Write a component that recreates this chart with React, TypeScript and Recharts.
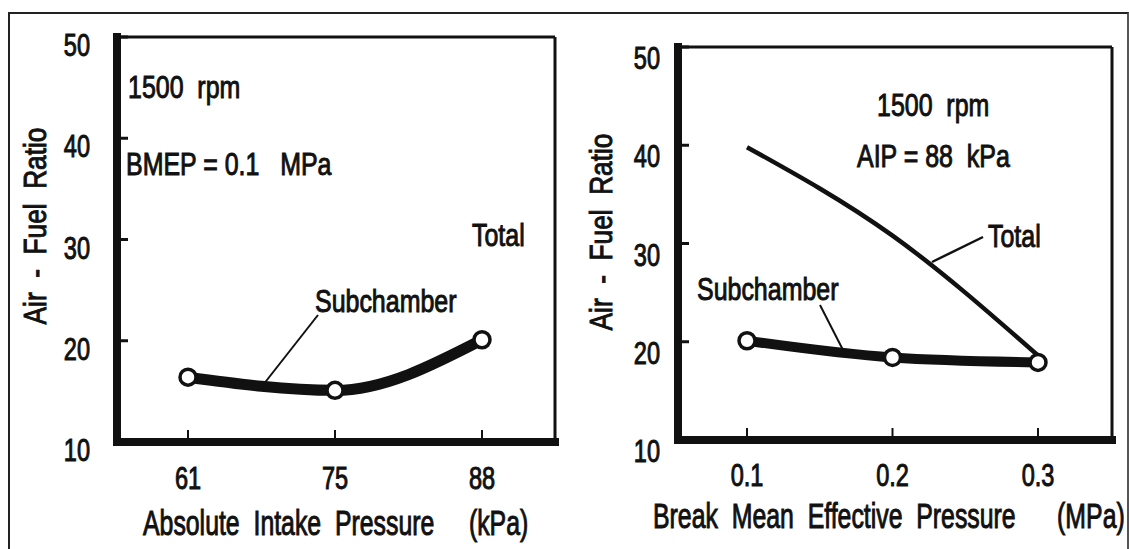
import React from "react"
import { LineChart, Line, XAxis, YAxis } from "recharts"

// left panel: air-fuel ratio vs absolute intake pressure
const aipTicks = ["61", "75", "88"]
const aipSubchamber = [16.4, 15.1, 20.1]

// right panel: air-fuel ratio vs break mean effective pressure
const bmepTicks = ["0.1", "0.2", "0.3"]
const bmepSubchamber = [20.1, 18.4, 17.9]
const bmepTotal = [39.8, 30.8, 18.6]

const afrTicks = [10, 20, 30, 40, 50]

const INK = "#111"
const FONT = '"Liberation Sans", Arial, sans-serif'

const leftData = aipTicks.map((x, i) => ({ x, sub: aipSubchamber[i] }))
const rightData = bmepTicks.map((x, i) => ({
  x,
  sub: bmepSubchamber[i],
  total: bmepTotal[i],
}))

function Txt({
  x,
  y,
  size = 32,
  sx = 0.78,
  anchor = "start",
  rotate = 0,
  children,
}: {
  x: number
  y: number
  size?: number
  sx?: number
  anchor?: "start" | "middle" | "end"
  rotate?: number
  children: React.ReactNode
}) {
  const rot = rotate ? ` rotate(${rotate})` : ""
  return (
    <text
      transform={`translate(${x},${y})${rot} scale(${sx},1)`}
      fontSize={size}
      fontFamily={FONT}
      textAnchor={anchor}
      fill={INK}
      stroke={INK}
      strokeWidth={1}
      style={{ whiteSpace: "pre" }}
    >
      {children}
    </text>
  )
}

const yTick = (dx: number, dy: number) => (props: any) => {
  const { x, y, payload } = props
  return (
    <g>
      <line x1={x} x2={x + 11} y1={y} y2={y} stroke={INK} strokeWidth={3} />
      <Txt x={x - dx} y={y + dy} anchor="end" size={31} sx={0.76}>
        {String(payload.value)}
      </Txt>
    </g>
  )
}

const xTick = (dy: number) => (props: any) => {
  const { x, y, payload } = props
  return (
    <g>
      <line x1={x} x2={x} y1={y} y2={y - 12} stroke={INK} strokeWidth={2} />
      <Txt x={x} y={y + dy} anchor="middle" size={31} sx={0.76}>
        {String(payload.value)}
      </Txt>
    </g>
  )
}

const thickAxis = { stroke: INK, strokeWidth: 8, strokeLinecap: "square" as const }
const thinAxis = { stroke: INK, strokeWidth: 3 }
const dotStyle = { r: 8, fill: "#fff", stroke: INK, strokeWidth: 3.5 }

export default function App() {
  return (
    <div
      style={{
        position: "absolute",
        left: 0,
        top: 0,
        width: 1129,
        height: 549,
        background: "#fff",
        overflow: "hidden",
      }}
    >
      <div
        style={{
          position: "absolute",
          left: 8,
          top: 12,
          width: 1117,
          height: 600,
          borderTop: "2.5px solid #222",
          borderLeft: "2px solid #222",
          borderRight: "2px solid #555",
        }}
      />

      <div style={{ position: "absolute", left: 0, top: 0 }}>
        <LineChart
          width={560}
          height={549}
          data={leftData}
          margin={{ top: 35, right: 3, bottom: 47, left: 57 }}
        >
          <XAxis
            dataKey="x"
            type="category"
            height={60}
            padding={{ left: 71, right: 73 }}
            interval={0}
            tickSize={0}
            tickMargin={0}
            tickLine={false}
            axisLine={thickAxis}
            tick={xTick(47)}
          />
          <XAxis
            xAxisId="top"
            dataKey="x"
            orientation="top"
            height={2}
            tick={false}
            tickLine={false}
            axisLine={thinAxis}
          />
          <YAxis
            type="number"
            domain={[10, 50]}
            ticks={afrTicks}
            width={60}
            tickSize={0}
            tickMargin={0}
            tickLine={false}
            axisLine={thickAxis}
            tick={yTick(27, 19)}
          />
          <YAxis
            yAxisId="r"
            orientation="right"
            domain={[10, 50]}
            width={2}
            tick={false}
            tickLine={false}
            axisLine={thinAxis}
          />
          <Line
            type="monotone"
            dataKey="sub"
            stroke={INK}
            strokeWidth={11}
            dot={dotStyle}
            activeDot={false}
            isAnimationActive={false}
          />
        </LineChart>
      </div>

      <div style={{ position: "absolute", left: 560, top: 0 }}>
        <LineChart
          width={569}
          height={549}
          data={rightData}
          margin={{ top: 45, right: 15, bottom: 49, left: 58 }}
        >
          <XAxis
            dataKey="x"
            type="category"
            height={60}
            padding={{ left: 69, right: 74 }}
            interval={0}
            tickSize={0}
            tickMargin={0}
            tickLine={false}
            axisLine={thickAxis}
            tick={xTick(46)}
          />
          <XAxis
            xAxisId="top"
            dataKey="x"
            orientation="top"
            height={2}
            tick={false}
            tickLine={false}
            axisLine={thinAxis}
          />
          <YAxis
            type="number"
            domain={[10, 50]}
            ticks={afrTicks}
            width={60}
            tickSize={0}
            tickMargin={0}
            tickLine={false}
            axisLine={thickAxis}
            tick={yTick(18, 22)}
          />
          <YAxis
            yAxisId="r"
            orientation="right"
            domain={[10, 50]}
            width={2}
            tick={false}
            tickLine={false}
            axisLine={thinAxis}
          />
          <Line
            type="monotone"
            dataKey="total"
            stroke={INK}
            strokeWidth={4.5}
            dot={false}
            activeDot={false}
            isAnimationActive={false}
          />
          <Line
            type="monotone"
            dataKey="sub"
            stroke={INK}
            strokeWidth={10}
            dot={dotStyle}
            activeDot={false}
            isAnimationActive={false}
          />
        </LineChart>
      </div>

      {/* annotations and axis titles */}
      <svg
        width={1129}
        height={549}
        style={{ position: "absolute", left: 0, top: 0, pointerEvents: "none" }}
      >
        <Txt x={46} y={226} anchor="middle" rotate={-90} size={32} sx={0.82}>
          {"Air  -  Fuel  Ratio"}
        </Txt>
        <Txt x={143} y={535} size={35} sx={0.71}>
          {"Absolute  Intake  Pressure     (kPa)"}
        </Txt>
        <Txt x={128} y={98}>{"1500  rpm"}</Txt>
        <Txt x={126} y={175}>{"BMEP = 0.1   MPa"}</Txt>
        <Txt x={472} y={246}>Total</Txt>
        <Txt x={315} y={312}>Subchamber</Txt>
        <line x1={318} y1={315} x2={263} y2={385} stroke={INK} strokeWidth={2} />

        <Txt x={612} y={232} anchor="middle" rotate={-90} size={32} sx={0.82}>
          {"Air  -  Fuel  Ratio"}
        </Txt>
        <Txt x={653} y={528} size={35} sx={0.71}>
          {"Break  Mean  Effective  Pressure      (MPa)"}
        </Txt>
        <Txt x={877} y={116}>{"1500  rpm"}</Txt>
        <Txt x={857} y={167}>{"AIP = 88  kPa"}</Txt>
        <Txt x={988} y={247}>Total</Txt>
        <line x1={983} y1={237} x2={932} y2={262} stroke={INK} strokeWidth={2.5} />
        <Txt x={697} y={300}>Subchamber</Txt>
        <line x1={820} y1={305} x2={843} y2={350} stroke={INK} strokeWidth={2} />
      </svg>
    </div>
  )
}
